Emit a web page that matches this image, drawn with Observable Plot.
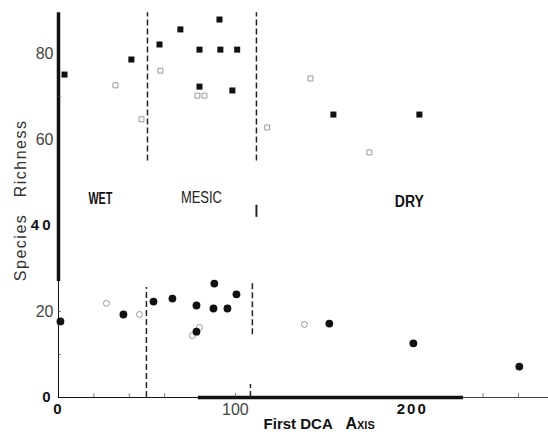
<!DOCTYPE html>
<html>
<head>
<meta charset="utf-8">
<script src="https://cdn.jsdelivr.net/npm/d3@7"></script>
<script src="https://cdn.jsdelivr.net/npm/@observablehq/plot@0.6"></script>
<style>
  body { margin: 0; background: white; }
  #chart { width: 548px; height: 443px; }
</style>
</head>
<body>
<div id="chart"></div>
<script>
// Upper group (filled and open squares), [DCA axis 1 score, species richness]
const filledSquares = [[3.4,75.1],[41.2,78.6],[57.1,82.1],[68.9,85.6],[91,87.9],[79.7,80.9],[91.5,80.9],[101,80.9],[79.7,72.3],[98.3,71.4],[155.4,65.8],[204,65.8]];
const openSquares = [[32.2,72.6],[46.9,64.7],[57.6,76],[78.5,70.2],[82.5,70.2],[118,62.8],[142.4,74.2],[175.7,57]];
// Lower group (filled and open circles)
const filledCircles = [[1.1,17.7],[36.7,19.3],[53.7,22.3],[64.4,23],[78,21.4],[88.1,26.5],[87.6,20.7],[95.5,20.7],[100.6,24],[78,15.3],[153.1,17.2],[200.6,12.6],[260.5,7.2]];
const openCircles = [[27.1,21.9],[45.8,19.3],[75.7,14.4],[79.7,16.3],[139,17]];

// Region labels
const regionNames = ["WET", "MESIC", "DRY"];
const regionX = [23.7, 80.8, 198.3];
const regionY = [46.3, 46.5, 45.6];
const regionWidths = [24, 41, 29];

// Boundary lines between regions
const dividers = [
  {x: 50.3, y1: 55, y2: 89.5, dash: true},
  {x: 111.9, y1: 55, y2: 89.5, dash: true},
  {x: 49.7, y1: 0, y2: 25.6, dash: true},
  {x: 109.6, y1: 14.6, y2: 26.5, dash: true},
  {x: 108.5, y1: 0, y2: 3, dash: true},
  {x: 111.9, y1: 41.9, y2: 44.7, dash: false}
];

// Axis ticks
const yTicksLight = [20, 60, 80];
const yTicksBold = [0, 40];
const xTicksBold = [0, 200];
const xTicksLight = [100];
const xMinorTicks = [20, 40, 60, 100, 240, 260];
const yMinorTicks = [10, 20, 70];

// Axis line pieces (scanned original: heavy and light stretches)
const leftAxisPieces = [{from: 27, to: 89.5, w: 3.5}, {from: 0, to: 27, w: 1}];
const bottomAxisPieces = [{from: 0, to: 79, w: 1}, {from: 79, to: 229, w: 3.5}, {from: 229, to: 277, w: 0.8}];

// Titles
const xTitleMain = "First DCA";
const xTitleTail = "Axis";
const yTitleLower = "Species";
const yTitleUpper = "Richness";

const fontMain = "'Liberation Sans', Arial, sans-serif";

const regionIdx = regionNames.map((d, i) => i);

const chart = Plot.plot({
  width: 548,
  height: 443,
  marginLeft: 58,
  marginRight: 0,
  marginTop: 10,
  marginBottom: 46,
  x: {domain: [0, 277]},
  y: {domain: [0, 90]},
  style: {background: "white", fontFamily: fontMain, color: "#222"},
  marks: [
    // axis lines
    Plot.ruleX(leftAxisPieces, {x: 0, y1: "from", y2: "to", strokeWidth: "w", stroke: "#111"}),
    Plot.ruleY(bottomAxisPieces, {y: 0, x1: "from", x2: "to", strokeWidth: "w", stroke: "#111"}),
    // minor inward ticks
    Plot.ruleX(xMinorTicks, {x: d => d, y1: 0, y2: 0.9, stroke: "#555", strokeWidth: 0.8}),
    Plot.ruleY(yMinorTicks, {y: d => d, x1: 0, x2: 1.6, stroke: "#555", strokeWidth: 0.8}),
    // axes labels
    Plot.axisY(yTicksLight, {tickSize: 0, tickPadding: 5, fontSize: 16, fill: "#444", label: null}),
    Plot.axisY(yTicksBold, {tickSize: 0, tickPadding: 5, fontSize: 15, fontWeight: "bold", fill: "#111", label: null, className: "ybold"}),
    Plot.axisX(xTicksBold, {tickSize: 0, tickPadding: 6, fontSize: 15, fontWeight: "bold", fill: "#111", label: null, className: "xbold"}),
    Plot.axisX(xTicksLight, {tickSize: 0, tickPadding: 6, fontSize: 16, fill: "#444", label: null}),
    // dividers
    Plot.ruleX(dividers.filter(d => d.dash), {x: "x", y1: "y1", y2: "y2", stroke: "#222", strokeWidth: 1.5, strokeDasharray: "6,3"}),
    Plot.ruleX(dividers.filter(d => !d.dash), {x: "x", y1: "y1", y2: "y2", stroke: "#222", strokeWidth: 2}),
    // region labels
    Plot.text(regionIdx.filter(i => regionNames[i] !== "MESIC"), {x: i => regionX[i], y: i => regionY[i], text: i => regionNames[i],
      fontSize: 16, fontWeight: "bold", fill: "#111", className: "region"}),
    Plot.text(regionIdx.filter(i => regionNames[i] === "MESIC"), {x: i => regionX[i], y: i => regionY[i], text: i => regionNames[i],
      fontSize: 17, fontWeight: "normal", fill: "#222", className: "region"}),
    // data points
    Plot.dot(openSquares, {x: d => d[0], y: d => d[1], symbol: "square", r: 2.8, stroke: "#999", strokeWidth: 1, fill: "none"}),
    Plot.dot(openCircles, {x: d => d[0], y: d => d[1], symbol: "circle", r: 3, stroke: "#999", strokeWidth: 1, fill: "none"}),
    Plot.dot(filledSquares, {x: d => d[0], y: d => d[1], symbol: "square", r: 3.4, fill: "#111"}),
    Plot.dot(filledCircles, {x: d => d[0], y: d => d[1], symbol: "circle", r: 3.9, fill: "#111"}),
    // x title
    Plot.text([xTitleMain], {x: 135.5, frameAnchor: "bottom", dy: 31, text: d => d, fontSize: 15, fontWeight: "bold", fill: "#111"}),
    Plot.text([xTitleTail], {x: 170.5, frameAnchor: "bottom", dy: 31, text: d => d, fontSize: 16, fontVariant: "small-caps", fontWeight: "bold", fill: "#111"}),
    // y title
    Plot.text([yTitleUpper], {y: 55.6, frameAnchor: "left", dx: -38, rotate: -90, textAnchor: "middle", text: d => d, fontSize: 16, fill: "#333", className: "ytitle"}),
    Plot.text([yTitleLower], {y: 34.9, frameAnchor: "left", dx: -38, rotate: -90, textAnchor: "middle", text: d => d, fontSize: 16, fill: "#333", className: "ytitle"})
  ]
});

d3.select(chart).selectAll(".ytitle text").attr("letter-spacing", "1.5px");
d3.select(chart).selectAll(".ybold text").attr("letter-spacing", "3px");
d3.select(chart).selectAll(".xbold text").attr("letter-spacing", "2px");
d3.select(chart).selectAll(".region text").each(function() {
  const t = this.textContent;
  const i = regionNames.indexOf(t);
  if (i >= 0) d3.select(this).attr("textLength", regionWidths[i]).attr("lengthAdjust", "spacingAndGlyphs");
});
document.getElementById("chart").appendChild(chart);
</script>
</body>
</html>
